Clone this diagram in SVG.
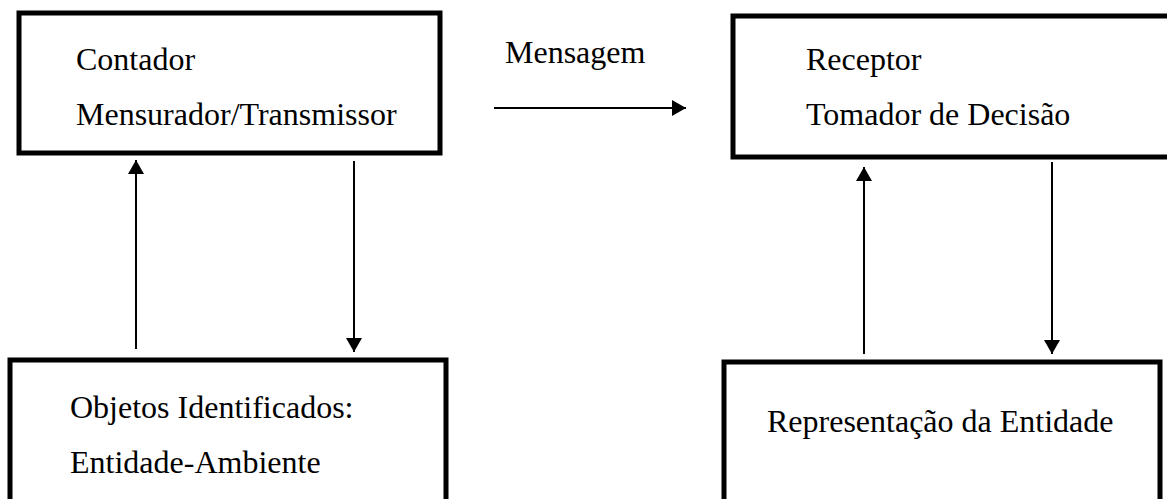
<svg xmlns="http://www.w3.org/2000/svg" width="1167" height="499" viewBox="0 0 1167 499">
<style>
.box{fill:#fff;stroke:#000;stroke-width:5}
.t{font-family:"Liberation Serif","Times New Roman",serif;font-size:32px;fill:#000}
.c{stroke:#000;stroke-width:2;fill:none}
</style>
<defs>
<marker id="ah" markerWidth="8" markerHeight="8" refX="8" refY="4" orient="auto" markerUnits="userSpaceOnUse" viewBox="0 0 8 8">
<path d="M0,0 L8,4 L0,8 Z" fill="#000"/>
</marker>
<marker id="ah2" viewBox="0 0 14 16" refX="14" refY="8" markerWidth="14" markerHeight="16" orient="auto" markerUnits="userSpaceOnUse">
<path d="M0,0 L14,8 L0,16 Z" fill="#000"/>
</marker>
</defs>
<rect width="1167" height="499" fill="#fff"/>
<g id="contador">
<rect class="box" x="19" y="13" width="421" height="140"/>
<text class="t" x="76" y="70">Contador</text>
<text class="t" x="76" y="125">Mensurador/Transmissor</text>
</g>
<g id="receptor">
<rect class="box" x="733" y="16" width="440" height="141"/>
<text class="t" x="806" y="70">Receptor</text>
<text class="t" x="806" y="125">Tomador de Decisão</text>
</g>
<g id="objetos">
<rect class="box" x="10" y="360" width="436" height="160"/>
<text class="t" x="70" y="418">Objetos Identificados:</text>
<text class="t" x="70" y="473">Entidade-Ambiente</text>
</g>
<g id="representacao">
<rect class="box" x="724" y="362" width="436" height="160"/>
<text class="t" x="767" y="432">Representação da Entidade</text>
</g>
<g id="connectors">
<line class="c" x1="136" y1="349" x2="136" y2="160" marker-end="url(#ah2)"/>
<line class="c" x1="354" y1="161" x2="354" y2="352" marker-end="url(#ah2)"/>
<line class="c" x1="864" y1="354" x2="864" y2="167" marker-end="url(#ah2)"/>
<line class="c" x1="1052" y1="162" x2="1052" y2="354" marker-end="url(#ah2)"/>
<line class="c" x1="494" y1="108" x2="686" y2="108" marker-end="url(#ah2)"/>
<text class="t" x="505" y="63">Mensagem</text>
</g>
</svg>
